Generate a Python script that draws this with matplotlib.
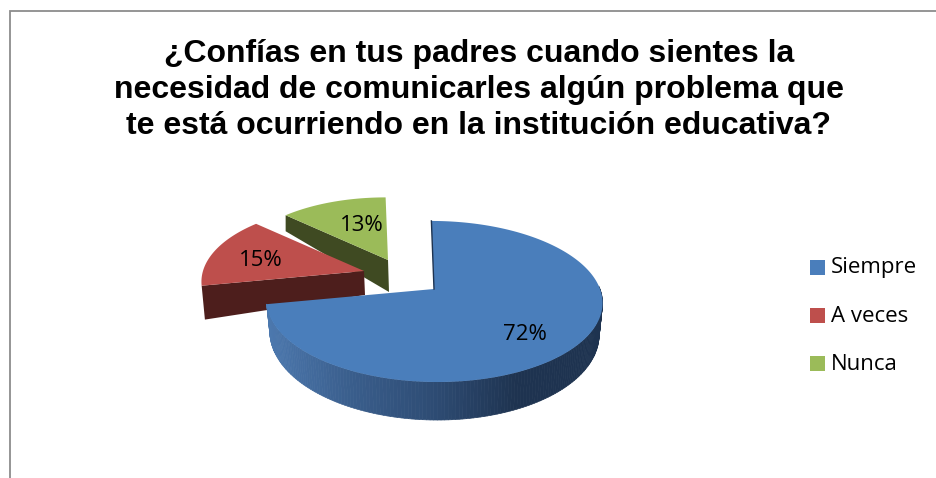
import numpy as np
import matplotlib
matplotlib.use("Agg")
import matplotlib.pyplot as plt
from matplotlib.patches import Polygon, Rectangle
from matplotlib.collections import PolyCollection
from matplotlib.colors import LinearSegmentedColormap

title = "¿Confías en tus padres cuando sientes la\nnecesidad de comunicarles algún problema que\nte está ocurriendo en la institución educativa?"
labels = ["Siempre", "A veces", "Nunca"]
values = [72, 15, 13]
top_colors = ["#4A7EBB", "#BE4F4C", "#9BBB59"]
cut_colors = ["#1E3350", "#4D1E1C", "#3F4A22"]

# pie look, in image pixels
apex = [(434, 289), (364, 271), (388, 260)]
scale = [1.0, 0.97, 0.92]
depth_apex = [30, 24, 32]
depth_rim = [(30, 8), (32, 10), (40, 35)]
label_pos = [(525, 335), (261, 261), (362, 225)]
RX, RY, K = 166, 78.6, 0.155

side_cmap = LinearSegmentedColormap.from_list("side", ["#4C78AE", "#3A5E8C", "#2E4C74", "#1E3350", "#1E3350"])


def project(angle, idx):
    # angle in degrees, clockwise from the top of the pie
    u, v = np.sin(np.radians(angle)), np.cos(np.radians(angle))
    w = 1 + K * v
    x = apex[idx][0] + scale[idx] * (RX * u - 3 * v) / w
    y = apex[idx][1] - scale[idx] * RY * v / w
    return x, y, v


def draw_slice(ax, idx, start, end, zorder):
    angles = np.linspace(start, end, 240)
    x, y, v = project(angles, idx)
    d = depth_rim[idx][0] + depth_rim[idx][1] * (-v)
    ax_, ay_ = apex[idx]

    # curved outer wall, only the front part can be seen
    front = np.cos(np.radians(angles)) < 0.05
    quads, shades = [], []
    xb = x + (ax_ - x) * 0.02
    yb = y + d
    for i in range(len(angles) - 1):
        if front[i] and front[i + 1]:
            quads.append([(x[i], y[i]), (x[i + 1], y[i + 1]), (xb[i + 1], yb[i + 1]), (xb[i], yb[i])])
            shades.append((x[i] - x.min()) / (x.max() - x.min()))
    if idx == 0:
        wall = PolyCollection(quads, array=np.array(shades), cmap=side_cmap, edgecolors="face", linewidths=0.5, zorder=zorder)
        ax.add_collection(wall)

    # flat cut face towards the viewer
    if idx == 1:
        ax.add_patch(Polygon([(x[0], y[0]), (ax_, ay_), (ax_ + 1, ay_ + depth_apex[idx]), (xb[0], yb[0])],
                             facecolor=cut_colors[idx], edgecolor="none", zorder=zorder))
    if idx == 2:
        ax.add_patch(Polygon([(x[0], y[0]), (ax_, ay_), (ax_ + 1, ay_ + depth_apex[idx]), (x[0], y[0] + 16)],
                             facecolor=cut_colors[idx], edgecolor="none", zorder=zorder))

    ax.add_patch(Polygon(np.vstack([[ax_, ay_], np.column_stack([x, y])]), closed=True,
                         facecolor=top_colors[idx], edgecolor="none", zorder=zorder + 0.1))
    if idx == 0:
        ax.plot([x[0], ax_], [y[0], ay_], color="#1E3350", lw=1, zorder=zorder + 0.2)


fig = plt.figure(figsize=(9.37, 4.78), dpi=100)
ax = fig.add_axes([0, 0, 1, 1])
ax.set_xlim(0, 937)
ax.set_ylim(478, 0)
ax.axis("off")

# chart frame, cut off by the right and bottom of the image
ax.add_patch(Rectangle((10, 11), 1000, 500, facecolor="white", edgecolor="#8C8C8C", lw=1.3))

ax.text(479, 90, title, family="Liberation Sans", weight="bold", fontsize=23, ha="center", va="center",
        linespacing=1.27, color="black")

edges = np.concatenate([[0], np.cumsum(values)]) * 3.6
for idx in [2, 1, 0]:
    draw_slice(ax, idx, edges[idx], edges[idx + 1], 3 + (2 - idx))
    ax.text(label_pos[idx][0], label_pos[idx][1], "%d%%" % values[idx], family="Open Sans", fontsize=16,
            ha="center", va="center", color="black", zorder=10)

for idx, label in enumerate(labels):
    y = 267 + idx * 48.3
    ax.add_patch(Rectangle((810, y - 7.5), 15, 15, facecolor=top_colors[idx], edgecolor="none"))
    ax.text(831, y + 1, label, family="Open Sans", fontsize=16, ha="left", va="center", color="black")

fig.savefig("out.png", dpi=100)
